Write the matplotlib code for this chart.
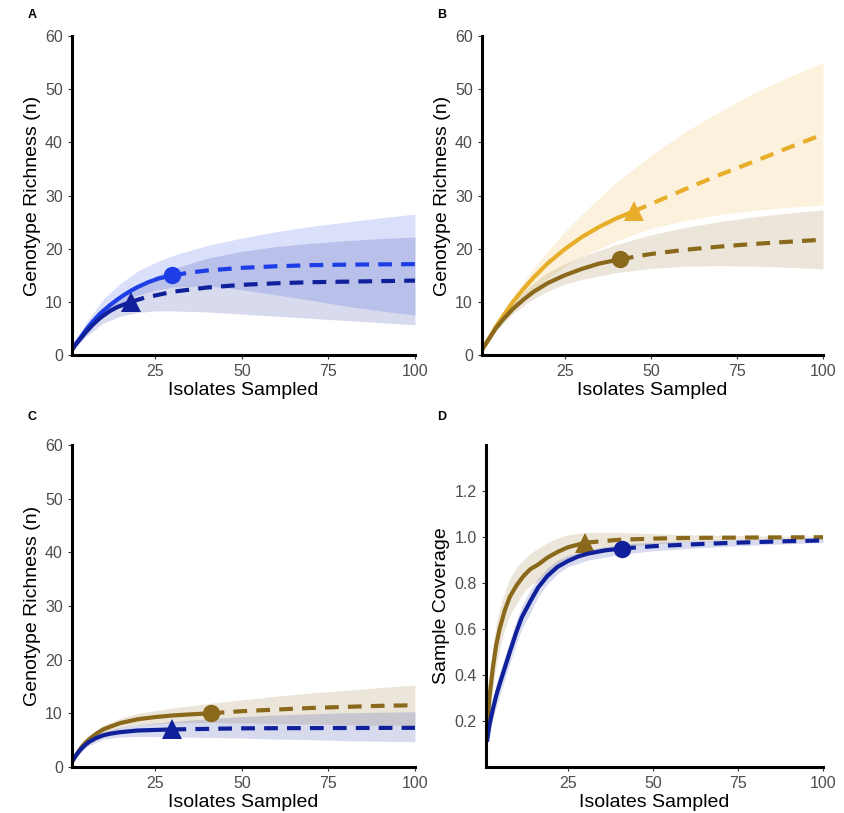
import numpy as np
import matplotlib
matplotlib.use("Agg")
import matplotlib.pyplot as plt

plt.rcParams['font.family'] = ['Liberation Sans', 'DejaVu Sans']

BRIGHT = '#1d3ee6'
NAVY = '#10209a'
GOLD = '#e8ae2a'
BROWN = '#8a681c'

# ---- Panel A ----
a1_obs_x = [1, 2, 3, 4, 5, 6, 7, 8, 9, 10, 12, 14, 16, 18, 20, 23, 26, 30]
a1_obs_y = [1, 2, 2.9, 3.8, 4.7, 5.5, 6.3, 7, 7.7, 8.3, 9.4, 10.4, 11.3, 12.1, 12.8, 13.7, 14.4, 15]
a1_ext_x = [30, 35, 40, 50, 60, 70, 80, 90, 100]
a1_ext_y = [15, 15.5, 15.9, 16.4, 16.7, 16.9, 17.0, 17.05, 17.1]
a1_ci_x = [1, 5, 10, 15, 20, 25, 30, 40, 50, 60, 70, 80, 90, 100]
a1_ci_hi = [1, 6, 10.5, 13.5, 15.8, 17.4, 18.7, 20.6, 22.0, 23.2, 24.2, 25.0, 25.8, 26.5]
a1_ci_lo = [1, 4.5, 7.5, 9.8, 11.3, 12.2, 12.8, 13.0, 12.3, 11.3, 10.3, 9.2, 8.3, 7.5]

a2_obs_x = [1, 2, 3, 4, 5, 6, 7, 8, 9, 10, 12, 14, 16, 18]
a2_obs_y = [1, 1.9, 2.7, 3.5, 4.3, 5, 5.7, 6.3, 6.9, 7.4, 8.3, 9, 9.5, 10]
a2_ext_x = [18, 22, 25, 30, 35, 40, 50, 60, 70, 80, 90, 100]
a2_ext_y = [10, 10.8, 11.2, 11.9, 12.3, 12.7, 13.2, 13.5, 13.7, 13.8, 13.9, 14.0]
a2_ci_x = [1, 5, 10, 15, 20, 25, 30, 40, 50, 60, 70, 80, 90, 100]
a2_ci_hi = [1, 5, 8.5, 11, 13, 14.8, 16.2, 18.2, 19.5, 20.4, 21.0, 21.5, 21.9, 22.2]
a2_ci_lo = [1, 3.5, 6, 7.3, 8, 8.3, 8.3, 8.1, 7.7, 7.3, 6.9, 6.5, 6.1, 5.7]

# ---- Panel B ----
b1_obs_x = [1, 3, 5, 7, 10, 13, 16, 20, 25, 30, 35, 40, 45]
b1_obs_y = [1, 3, 5.3, 7.2, 10, 12.4, 14.6, 17.2, 19.9, 22.2, 24.1, 25.7, 27]
b1_ext_x = [45, 50, 60, 70, 80, 90, 100]
b1_ext_y = [27, 28.4, 31.2, 33.9, 36.4, 39, 41.5]
b1_ci_x = [1, 5, 10, 15, 20, 25, 30, 40, 50, 60, 70, 80, 90, 100]
b1_ci_hi = [1, 6, 11, 15.5, 19.5, 23.2, 26.5, 32.5, 37.5, 42, 45.8, 49.3, 52.3, 55]
b1_ci_lo = [1, 4.8, 9, 12, 14.5, 16.7, 18.5, 21.5, 23.8, 25.3, 26.4, 27.2, 27.8, 28.2]

b2_obs_x = [1, 3, 5, 7, 10, 13, 16, 20, 25, 30, 35, 41]
b2_obs_y = [1, 3, 5, 6.6, 8.7, 10.4, 11.9, 13.5, 15, 16.2, 17.2, 18]
b2_ext_x = [41, 50, 60, 70, 80, 90, 100]
b2_ext_y = [18, 19, 19.8, 20.4, 20.9, 21.3, 21.7]
b2_ci_x = [1, 5, 10, 15, 20, 25, 30, 40, 50, 60, 70, 80, 90, 100]
b2_ci_hi = [1, 5.5, 9.8, 13, 15.5, 17.2, 18.5, 20.8, 22.6, 24, 25.1, 26, 26.7, 27.3]
b2_ci_lo = [1, 4.5, 7.8, 10.2, 12, 13.3, 14.2, 15.5, 16.3, 16.7, 16.8, 16.7, 16.5, 16.2]

# ---- Panel C ----
c1_obs_x = [1, 2, 3, 4, 5, 6, 8, 10, 12, 15, 20, 25, 30, 35, 41]
c1_obs_y = [1, 2, 3, 3.9, 4.6, 5.2, 6.2, 7, 7.5, 8.2, 8.9, 9.3, 9.6, 9.8, 10]
c1_ext_x = [41, 50, 60, 70, 80, 90, 100]
c1_ext_y = [10, 10.4, 10.7, 11, 11.2, 11.4, 11.5]
c1_ci_x = [1, 5, 10, 15, 20, 30, 40, 50, 60, 70, 80, 90, 100]
c1_ci_hi = [1, 5.2, 7.8, 9.1, 10, 11, 11.8, 12.5, 13.2, 13.8, 14.3, 14.8, 15.3]
c1_ci_lo = [1, 4.0, 6.2, 7.3, 7.9, 8.2, 8.3, 8.2, 8.1, 8.0, 7.9, 7.8, 7.8]

c2_obs_x = [1, 2, 3, 4, 5, 6, 8, 10, 12, 15, 20, 25, 30]
c2_obs_y = [1, 2, 2.9, 3.6, 4.2, 4.7, 5.4, 5.9, 6.2, 6.5, 6.8, 6.9, 7]
c2_ext_x = [30, 40, 50, 70, 100]
c2_ext_y = [7, 7.1, 7.2, 7.25, 7.3]
c2_ci_x = [1, 5, 10, 15, 20, 30, 40, 50, 60, 70, 80, 90, 100]
c2_ci_hi = [1, 4.7, 6.6, 7.4, 7.9, 8.5, 9.0, 9.4, 9.7, 9.9, 10.1, 10.2, 10.3]
c2_ci_lo = [1, 3.7, 5.2, 5.6, 5.7, 5.6, 5.5, 5.4, 5.2, 5.1, 4.9, 4.8, 4.7]

# ---- Panel D ----
d1_obs_x = [1.3, 2, 3, 4, 5, 6.5, 8, 10, 12, 14, 16.3, 19, 22, 25, 30]
d1_obs_y = [0.15, 0.3, 0.43, 0.53, 0.6, 0.68, 0.74, 0.79, 0.83, 0.86, 0.88, 0.91, 0.935, 0.955, 0.975]
d1_ext_x = [30, 40, 50, 60, 80, 100]
d1_ext_y = [0.975, 0.988, 0.993, 0.996, 0.998, 0.999]
d1_ci_x = [1.3, 2, 3, 4, 5, 6.5, 8, 10, 12, 14, 16.3, 19, 22, 25, 30, 40, 50, 60, 80, 100]
d1_ci_hi = [0.2, 0.38, 0.52, 0.62, 0.69, 0.76, 0.82, 0.87, 0.9, 0.93, 0.95, 0.975, 0.995, 1.01, 1.02, 1.02, 1.015, 1.01, 1.005, 1.003]
d1_ci_lo = [0.1, 0.22, 0.34, 0.44, 0.51, 0.6, 0.66, 0.71, 0.76, 0.79, 0.81, 0.845, 0.875, 0.9, 0.93, 0.955, 0.97, 0.98, 0.99, 0.995]

d2_obs_x = [1.3, 2, 3, 4, 5, 6.5, 8, 10, 11.5, 14, 16.3, 19, 22, 25, 28, 31, 36, 41]
d2_obs_y = [0.11, 0.18, 0.25, 0.31, 0.36, 0.43, 0.5, 0.59, 0.65, 0.72, 0.78, 0.83, 0.87, 0.895, 0.915, 0.928, 0.942, 0.95]
d2_ext_x = [41, 50, 60, 70, 80, 90, 100]
d2_ext_y = [0.95, 0.96, 0.967, 0.973, 0.978, 0.982, 0.985]
d2_ci_x = [1.3, 2, 3, 4, 5, 6.5, 8, 10, 11.5, 14, 16.3, 19, 22, 25, 31, 41, 50, 60, 70, 80, 90, 100]
d2_ci_hi = [0.13, 0.21, 0.29, 0.36, 0.41, 0.48, 0.55, 0.64, 0.7, 0.77, 0.82, 0.865, 0.9, 0.92, 0.945, 0.97, 0.978, 0.983, 0.987, 0.99, 0.992, 0.994]
d2_ci_lo = [0.09, 0.15, 0.21, 0.26, 0.31, 0.38, 0.45, 0.54, 0.6, 0.67, 0.74, 0.795, 0.84, 0.87, 0.9, 0.925, 0.94, 0.95, 0.958, 0.965, 0.971, 0.976]

x_ticks = [25, 50, 75, 100]
rich_ticks = [0, 10, 20, 30, 40, 50, 60]
cov_ticks = [0.2, 0.4, 0.6, 0.8, 1.0, 1.2]


def draw_series(ax, obs_x, obs_y, ext_x, ext_y, ci_x, ci_lo, ci_hi, color, marker):
    ax.fill_between(ci_x, ci_lo, ci_hi, color=color, alpha=0.16, linewidth=0)
    ax.plot(obs_x, obs_y, color=color, lw=3, solid_capstyle='butt', solid_joinstyle='round')
    ax.plot(ext_x, ext_y, color=color, lw=3, dashes=(3.3, 2.2))
    ms = 12.5 if marker == 'o' else 14
    ax.plot(obs_x[-1], obs_y[-1], marker=marker, color=color, ms=ms, mew=0)


def style_axes(ax, ylabel, yticks, ylim):
    for s in ['top', 'right']:
        ax.spines[s].set_visible(False)
    for s in ['left', 'bottom']:
        ax.spines[s].set_linewidth(2.2)
    ax.set_xlim(1, 100)
    ax.set_ylim(*ylim)
    ax.set_xticks(x_ticks)
    ax.set_yticks(yticks)
    if yticks is cov_ticks:
        ax.set_yticklabels([f'{t:.1f}' for t in yticks])
    ax.tick_params(labelsize=11.5, labelcolor='#4d4d4d', length=3, width=0.8, color='#333333')
    ax.set_xlabel('Isolates Sampled', fontsize=14, labelpad=2)
    ax.set_ylabel(ylabel, fontsize=14, labelpad=3)


fig = plt.figure(figsize=(8.45, 8.13), dpi=100)
axA = fig.add_axes([0.0852, 0.5633, 0.4059, 0.3924])
axB = fig.add_axes([0.5704, 0.5633, 0.4036, 0.3924])
axC = fig.add_axes([0.0852, 0.0566, 0.4059, 0.396])
axD = fig.add_axes([0.5751, 0.0566, 0.399, 0.396])

draw_series(axA, a1_obs_x, a1_obs_y, a1_ext_x, a1_ext_y, a1_ci_x, a1_ci_lo, a1_ci_hi, BRIGHT, 'o')
draw_series(axA, a2_obs_x, a2_obs_y, a2_ext_x, a2_ext_y, a2_ci_x, a2_ci_lo, a2_ci_hi, NAVY, '^')
style_axes(axA, 'Genotype Richness (n)', rich_ticks, (0, 60))

draw_series(axB, b1_obs_x, b1_obs_y, b1_ext_x, b1_ext_y, b1_ci_x, b1_ci_lo, b1_ci_hi, GOLD, '^')
draw_series(axB, b2_obs_x, b2_obs_y, b2_ext_x, b2_ext_y, b2_ci_x, b2_ci_lo, b2_ci_hi, BROWN, 'o')
style_axes(axB, 'Genotype Richness (n)', rich_ticks, (0, 60))

draw_series(axC, c1_obs_x, c1_obs_y, c1_ext_x, c1_ext_y, c1_ci_x, c1_ci_lo, c1_ci_hi, BROWN, 'o')
draw_series(axC, c2_obs_x, c2_obs_y, c2_ext_x, c2_ext_y, c2_ci_x, c2_ci_lo, c2_ci_hi, NAVY, '^')
style_axes(axC, 'Genotype Richness (n)', rich_ticks, (0, 60))

draw_series(axD, d1_obs_x, d1_obs_y, d1_ext_x, d1_ext_y, d1_ci_x, d1_ci_lo, d1_ci_hi, BROWN, '^')
draw_series(axD, d2_obs_x, d2_obs_y, d2_ext_x, d2_ext_y, d2_ci_x, d2_ci_lo, d2_ci_hi, NAVY, 'o')
style_axes(axD, 'Sample Coverage', cov_ticks, (0, 1.4))

for lab, (x, y) in zip('ABCD', [(28, 18), (437, 18), (28, 420), (437, 420)]):
    fig.text(x / 845, 1 - y / 813, lab, fontsize=9, fontweight='bold')

fig.savefig('out.png', dpi=100)
